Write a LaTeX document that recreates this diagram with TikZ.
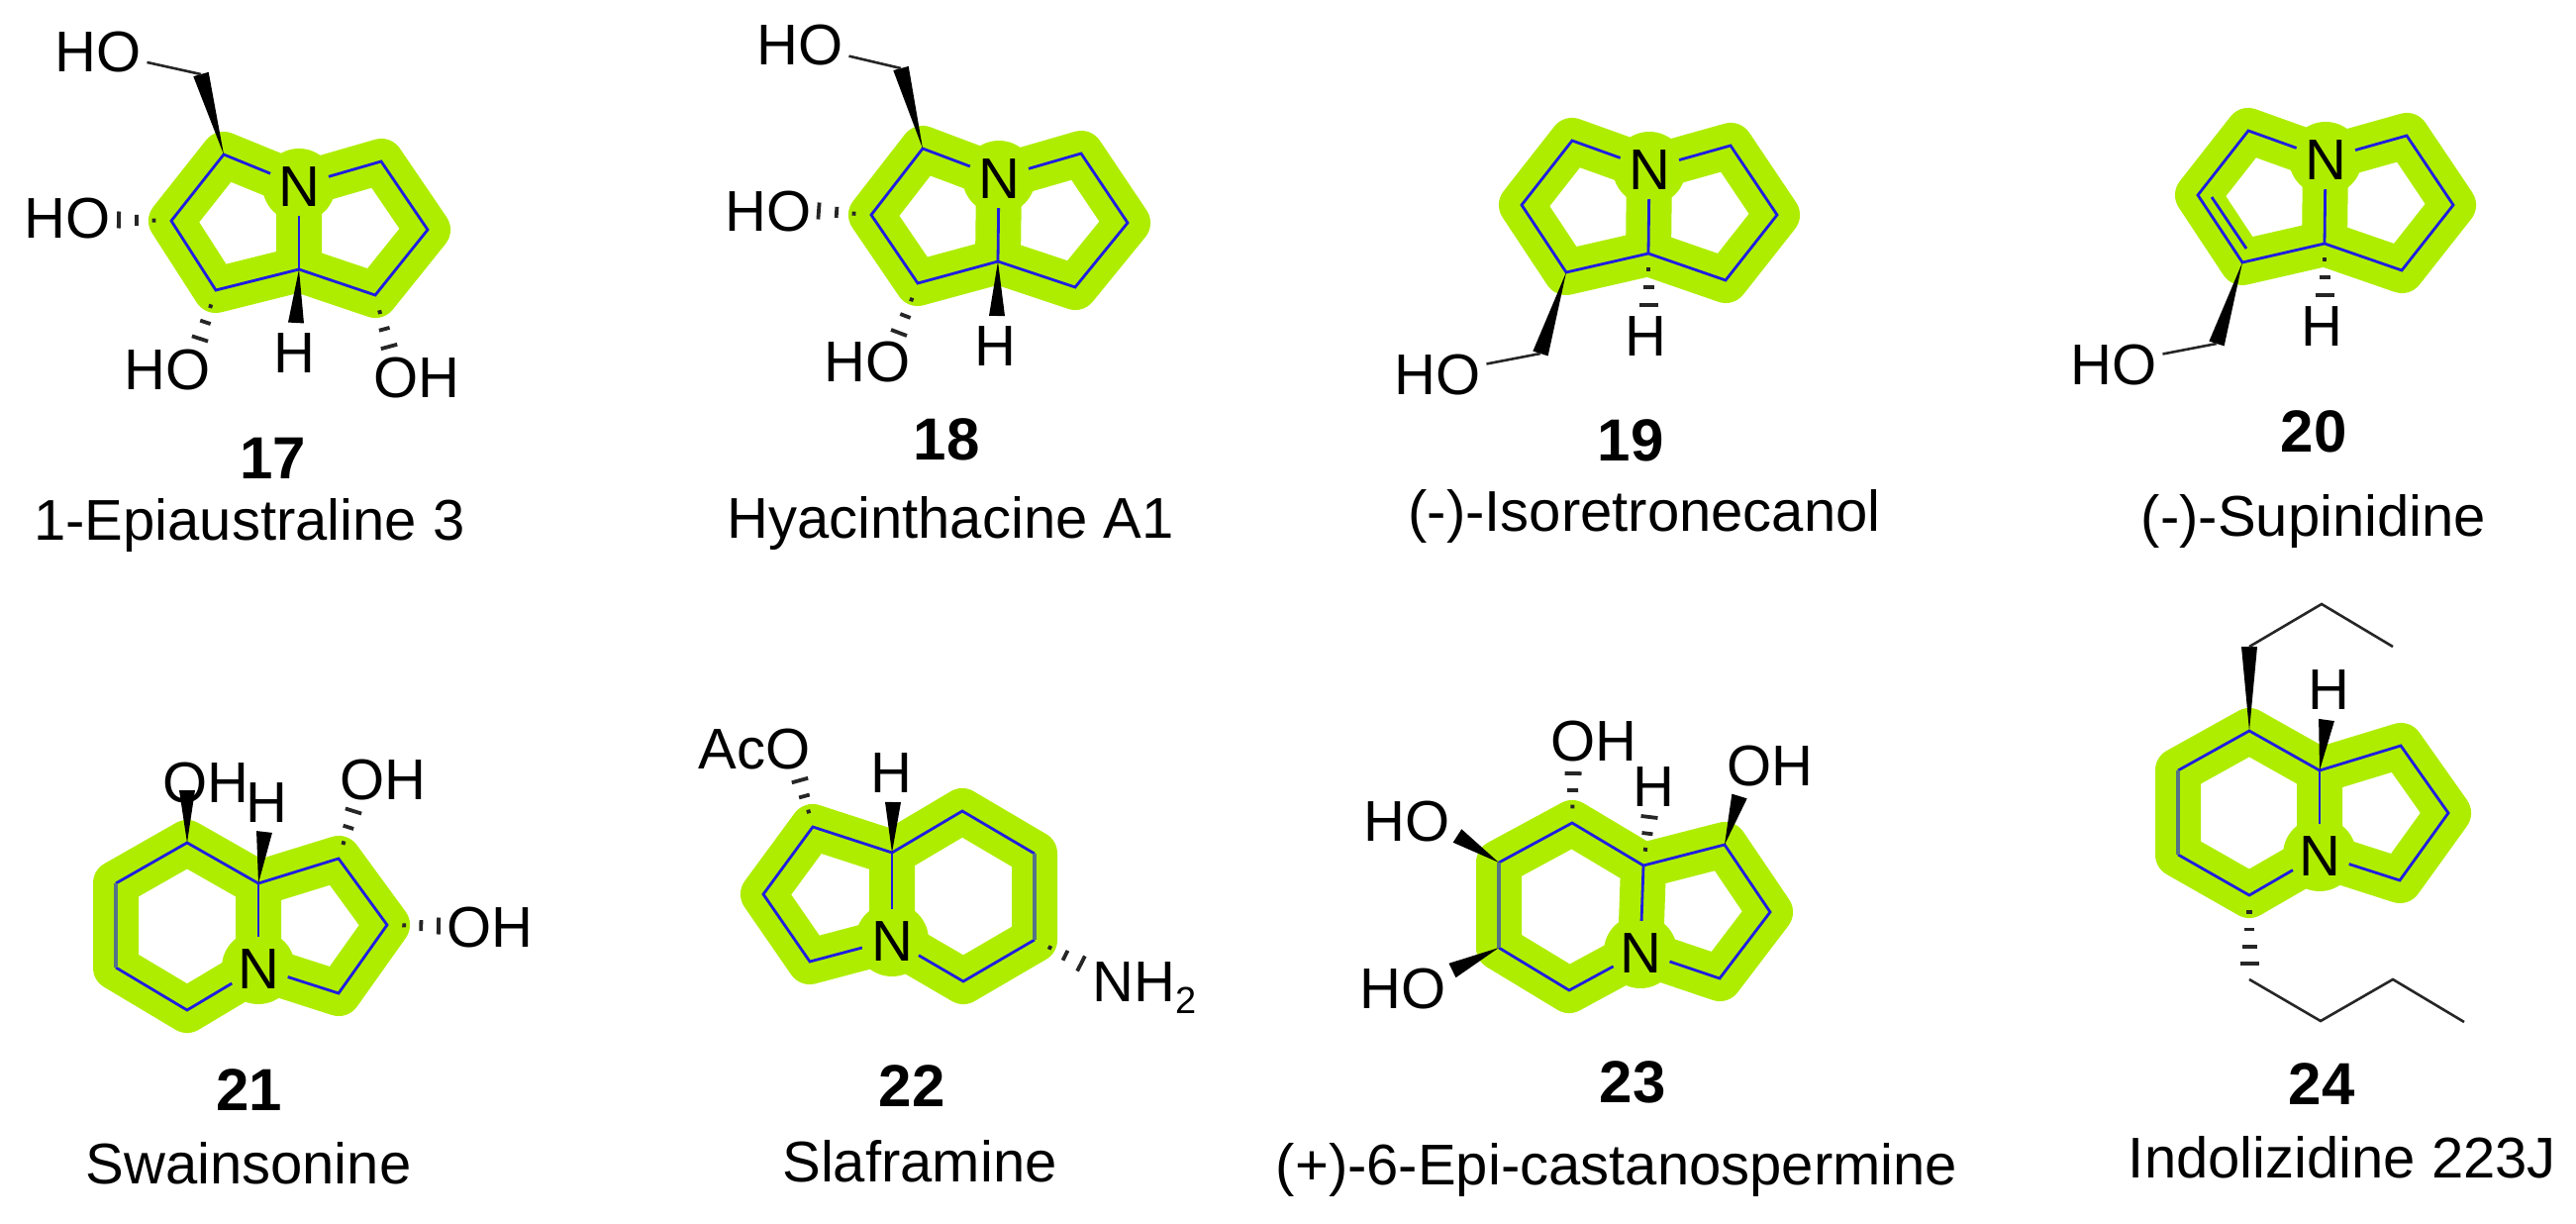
\documentclass[tikz,border=0pt]{standalone}
\usepackage{xcolor}
\usepackage{fontspec}
\setmainfont{Liberation Sans}
\usetikzlibrary{calc}
\definecolor{limeglow}{RGB}{175,237,0}
\definecolor{bondblue}{RGB}{30,30,225}
\definecolor{dblgrey}{RGB}{85,115,135}
\tikzset{
  glow/.style={draw=limeglow, line width=46pt, line join=round, line cap=round},
  ringbond/.style={draw=bondblue, line width=2.8pt, line join=miter},
  dblbond/.style={draw=dblgrey, line width=4.6pt},
  chainbond/.style={draw=black!85, line width=2.6pt, line join=miter},
  hashbar/.style={draw=black!85, line width=3.8pt},
  atomlbl/.style={inner sep=0pt, outer sep=6pt, text height=42pt, text depth=0pt, font=\fontsize{58}{70}\selectfont},
  nitro/.style={circle, inner sep=0pt, minimum size=62pt, text height=42pt, text depth=0pt, font=\fontsize{58}{70}\selectfont},
  numlbl/.style={inner sep=0pt, text height=43pt, text depth=0pt, font=\fontsize{60}{70}\selectfont\bfseries},
  namelbl/.style={inner sep=0pt, text height=42pt, text depth=0pt, font=\fontsize{58}{70}\selectfont}
}
\newcommand{\wedgebond}[2]{\fill ($(#2)!8pt!90:(#1)$) -- (#1) -- ($(#2)!8pt!-90:(#1)$) -- cycle;}
\newcommand{\hashbond}[3][0.33/2,0.66/5.5,1/8.5]{%
  \foreach \hf/\hw in {#1} {
    \draw[hashbar] ($(#2)!\hf!(#3)!\hw pt!90:(#2)$) -- ($(#2)!\hf!(#3)!\hw pt!-90:(#2)$);
  }}

\begin{document}
\begin{tikzpicture}[x=1pt,y=-1pt]
  \useasboundingbox (0,0) rectangle (2602,1236);

  % Compound 17
  \coordinate (a17) at (226,156); \coordinate (b17) at (173,223); \coordinate (c17) at (218,293);
  \coordinate (j17) at (302,272); \coordinate (d17) at (379,298); \coordinate (e17) at (432,232);
  \coordinate (f17) at (385,163);
  \path (302,187) coordinate (n17c);
  \draw[glow] (a17) -- (n17c) -- (f17) -- (e17) -- (d17) -- (j17) -- (c17) -- (b17) -- cycle (n17c) -- (j17);
  \fill[limeglow] (n17c) circle (37);
  \node[nitro] (n17) at (n17c) {N};
  \draw[ringbond] (n17) -- (a17) -- (b17) -- (c17) -- (j17) -- (d17) -- (e17) -- (f17) -- (n17);
  \draw[ringbond] (j17) -- (n17);
  \coordinate (w17) at (203,75); \coordinate (x17) at (120,222); \coordinate (y17) at (202,342);
  \coordinate (z17) at (393,350); \coordinate (v17) at (299,326);
  \node[atomlbl] (ho17a) at (99,52) {HO};
  \node[atomlbl] (ho17b) at (68,219) {HO};
  \node[atomlbl] (ho17c) at (169,372) {HO};
  \node[atomlbl] (oh17) at (421,380) {OH};
  \node[atomlbl] (h17) at (297,355) {H};
  \wedgebond{a17}{w17}
  \wedgebond{j17}{v17}
  \draw[chainbond] (w17) -- (ho17a);
  \hashbond{b17}{x17}
  \hashbond{c17}{y17}
  \hashbond{d17}{z17}
  \node[numlbl] (num17) at (276,462) {17};
  \node[namelbl] (name17) at (252,524) {1-Epiaustraline 3};

  % Compound 18
  \coordinate (a18) at (932,150); \coordinate (b18) at (880,217); \coordinate (c18) at (927,286);
  \coordinate (j18) at (1008,264); \coordinate (d18) at (1086,290); \coordinate (e18) at (1139,225);
  \coordinate (f18) at (1092,155);
  \path (1009,179) coordinate (n18c);
  \draw[glow] (a18) -- (n18c) -- (f18) -- (e18) -- (d18) -- (j18) -- (c18) -- (b18) -- cycle (n18c) -- (j18);
  \fill[limeglow] (n18c) circle (37);
  \node[nitro] (n18) at (n18c) {N};
  \draw[ringbond] (n18) -- (a18) -- (b18) -- (c18) -- (j18) -- (d18) -- (e18) -- (f18) -- (n18);
  \draw[ringbond] (j18) -- (n18);
  \coordinate (w18) at (910,69); \coordinate (x18) at (827,213); \coordinate (y18) at (908,336);
  \coordinate (v18) at (1007,319);
  \node[atomlbl] (ho18a) at (808,45) {HO};
  \node[atomlbl] (ho18b) at (776,212) {HO};
  \node[atomlbl] (ho18c) at (876,364) {HO};
  \node[atomlbl] (h18) at (1005,348) {H};
  \wedgebond{a18}{w18}
  \wedgebond{j18}{v18}
  \draw[chainbond] (w18) -- (ho18a);
  \hashbond{b18}{x18}
  \hashbond{c18}{y18}
  \node[numlbl] (num18) at (956,443) {18};
  \node[namelbl] (name18) at (960,522) {Hyacinthacine A1};

  % Compound 19
  \coordinate (a19) at (1588,142); \coordinate (b19) at (1537,207); \coordinate (c19) at (1582,275);
  \coordinate (j19) at (1665,256); \coordinate (d19) at (1743,283); \coordinate (e19) at (1795,217);
  \coordinate (f19) at (1748,147);
  \path (1666,170) coordinate (n19c);
  \draw[glow] (a19) -- (n19c) -- (f19) -- (e19) -- (d19) -- (j19) -- (c19) -- (b19) -- cycle (n19c) -- (j19);
  \fill[limeglow] (n19c) circle (37);
  \node[nitro] (n19) at (n19c) {N};
  \draw[ringbond] (n19) -- (a19) -- (b19) -- (c19) -- (j19) -- (d19) -- (e19) -- (f19) -- (n19);
  \draw[ringbond] (j19) -- (n19);
  \coordinate (w19) at (1556,357); \coordinate (x19) at (1665,308);
  \node[atomlbl] (ho19) at (1452,377) {HO};
  \node[atomlbl] (h19) at (1662,338) {H};
  \wedgebond{c19}{w19}
  \draw[chainbond] (w19) -- (ho19);
  \hashbond[0.3/2,0.65/5.5,1/9.5]{j19}{x19}
  \node[numlbl] (num19) at (1647,444) {19};
  \node[namelbl] (name19) at (1661,515) {(-)-Isoretronecanol};

  % Compound 20
  \coordinate (a20) at (2271,132); \coordinate (b20) at (2220,197); \coordinate (c20) at (2265,265);
  \coordinate (j20) at (2348,246); \coordinate (d20) at (2426,273); \coordinate (e20) at (2478,207);
  \coordinate (f20) at (2431,137);
  \path (2349,160) coordinate (n20c);
  \draw[glow] (a20) -- (n20c) -- (f20) -- (e20) -- (d20) -- (j20) -- (c20) -- (b20) -- cycle (n20c) -- (j20);
  \fill[limeglow] (n20c) circle (37);
  \node[nitro] (n20) at (n20c) {N};
  \draw[ringbond] (n20) -- (a20) -- (b20) -- (c20) -- (j20) -- (d20) -- (e20) -- (f20) -- (n20);
  \draw[ringbond] (j20) -- (n20);
  \coordinate (p20) at (2234,199); \coordinate (q20) at (2269,251);
  \draw[ringbond] (p20) -- (q20);
  \coordinate (w20) at (2239,347); \coordinate (x20) at (2348,298);
  \node[atomlbl] (ho20) at (2135,367) {HO};
  \node[atomlbl] (h20) at (2345,328) {H};
  \wedgebond{c20}{w20}
  \draw[chainbond] (w20) -- (ho20);
  \hashbond[0.3/2,0.65/5.5,1/9.5]{j20}{x20}
  \node[numlbl] (num20) at (2337,435) {20};
  \node[namelbl] (name20) at (2337,520) {(-)-Supinidine};

  % Compound 21
  \coordinate (a21) at (189,851); \coordinate (b21) at (117,892); \coordinate (c21) at (117,977);
  \coordinate (d21) at (189,1020); \coordinate (j21) at (261,892); \coordinate (e21) at (342,867);
  \coordinate (f21) at (391,934); \coordinate (g21) at (342,1003);
  \path (261,977) coordinate (n21c);
  \draw[glow] (n21c) -- (d21) -- (c21) -- (b21) -- (a21) -- (j21) -- (e21) -- (f21) -- (g21) -- cycle (j21) -- (n21c);
  \fill[limeglow] (n21c) circle (37);
  \node[nitro] (n21) at (n21c) {N};
  \draw[ringbond] (n21) -- (d21) -- (c21);
  \draw[ringbond] (b21) -- (a21) -- (j21) -- (e21) -- (f21) -- (g21) -- (n21);
  \draw[ringbond] (j21) -- (n21);
  \draw[dblbond] (b21) -- (c21);
  \coordinate (w21) at (189,798); \coordinate (v21) at (267,840); \coordinate (x21) at (357,819);
  \coordinate (y21) at (443,935);
  \node[atomlbl] (oh21a) at (208,789) {OH};
  \node[atomlbl] (h21) at (269,809) {H};
  \node[atomlbl] (oh21b) at (387,786) {OH};
  \node[atomlbl] (oh21c) at (495,935) {OH};
  \wedgebond{a21}{w21}
  \wedgebond{j21}{v21}
  \hashbond{e21}{x21}
  \hashbond{f21}{y21}
  \node[numlbl] (num21) at (252,1100) {21};
  \node[namelbl] (name21) at (251,1174) {Swainsonine};

  % Compound 22
  \coordinate (a22) at (821,835); \coordinate (b22) at (771,903); \coordinate (c22) at (818,971);
  \coordinate (j22) at (901,861); \coordinate (d22) at (972,819); \coordinate (e22) at (1045,862);
  \coordinate (f22) at (1045,949); \coordinate (g22) at (973,991);
  \path (901,949) coordinate (n22c);
  \draw[glow] (n22c) -- (c22) -- (b22) -- (a22) -- (j22) -- (d22) -- (e22) -- (f22) -- (g22) -- cycle (j22) -- (n22c);
  \fill[limeglow] (n22c) circle (37);
  \node[nitro] (n22) at (n22c) {N};
  \draw[ringbond] (n22) -- (c22) -- (b22) -- (a22) -- (j22) -- (d22) -- (e22);
  \draw[ringbond] (f22) -- (g22) -- (n22);
  \draw[ringbond] (j22) -- (n22);
  \draw[dblbond] (e22) -- (f22);
  \coordinate (v22) at (902,810); \coordinate (x22) at (808,788); \coordinate (y22) at (1092,973);
  \node[atomlbl] (aco22) at (762,755) {AcO};
  \node[atomlbl] (h22) at (900,779) {H};
  \node[atomlbl] (nh22) at (1156,990) {NH\raisebox{-.22em}{\fontsize{38}{40}\selectfont 2}};
  \wedgebond{j22}{v22}
  \hashbond{a22}{x22}
  \hashbond{f22}{y22}
  \node[numlbl] (num22) at (921,1096) {22};
  \node[namelbl] (name22) at (929,1172) {Slaframine};

  % Compound 23
  \coordinate (a23) at (1588,831); \coordinate (b23) at (1514,871); \coordinate (c23) at (1514,957);
  \coordinate (d23) at (1585,1000); \coordinate (j23) at (1660,874); \coordinate (e23) at (1742,853);
  \coordinate (f23) at (1788,921); \coordinate (g23) at (1737,988);
  \path (1657,961) coordinate (n23c);
  \draw[glow] (n23c) -- (d23) -- (c23) -- (b23) -- (a23) -- (j23) -- (e23) -- (f23) -- (g23) -- cycle (j23) -- (n23c);
  \fill[limeglow] (n23c) circle (37);
  \node[nitro] (n23) at (n23c) {N};
  \draw[ringbond] (n23) -- (d23) -- (c23);
  \draw[ringbond] (b23) -- (a23) -- (j23) -- (e23) -- (f23) -- (g23) -- (n23);
  \draw[ringbond] (j23) -- (n23);
  \draw[dblbond] (b23) -- (c23);
  \coordinate (u23) at (1472,844); \coordinate (t23) at (1467,980); \coordinate (v23) at (1757,804);
  \coordinate (x23) at (1589,781); \coordinate (y23) at (1666,825);
  \node[atomlbl] (oh23a) at (1610,747) {OH};
  \node[atomlbl] (h23) at (1670,793) {H};
  \node[atomlbl] (oh23b) at (1788,772) {OH};
  \node[atomlbl] (ho23a) at (1421,828) {HO};
  \node[atomlbl] (ho23b) at (1417,997) {HO};
  \wedgebond{b23}{u23}
  \wedgebond{c23}{t23}
  \wedgebond{e23}{v23}
  \hashbond{a23}{x23}
  \hashbond{j23}{y23}
  \node[numlbl] (num23) at (1649,1092) {23};
  \node[namelbl] (name23) at (1633,1175) {(+)-6-Epi-castanospermine};

  % Compound 24
  \coordinate (a24) at (2272,738); \coordinate (b24) at (2200,778); \coordinate (c24) at (2200,863);
  \coordinate (d24) at (2272,904); \coordinate (j24) at (2343,778); \coordinate (e24) at (2425,753);
  \coordinate (f24) at (2473,821); \coordinate (g24) at (2424,889);
  \path (2343,863) coordinate (n24c);
  \draw[glow] (n24c) -- (d24) -- (c24) -- (b24) -- (a24) -- (j24) -- (e24) -- (f24) -- (g24) -- cycle (j24) -- (n24c);
  \fill[limeglow] (n24c) circle (37);
  \node[nitro] (n24) at (n24c) {N};
  \draw[ringbond] (n24) -- (d24) -- (c24);
  \draw[ringbond] (b24) -- (a24) -- (j24) -- (e24) -- (f24) -- (g24) -- (n24);
  \draw[ringbond] (j24) -- (n24);
  \draw[dblbond] (b24) -- (c24);
  \coordinate (w24) at (2272,653); \coordinate (v24) at (2350,727); \coordinate (x24) at (2272,973);
  \coordinate (k24) at (2345,610); \coordinate (l24) at (2417,653);
  \coordinate (m24) at (2272,989); \coordinate (o24) at (2344,1031); \coordinate (q24) at (2417,989);
  \coordinate (r24) at (2489,1032);
  \node[atomlbl] (h24) at (2352,695) {H};
  \wedgebond{a24}{w24}
  \wedgebond{j24}{v24}
  \draw[chainbond] (w24) -- (k24) -- (l24);
  \draw[chainbond] (m24) -- (o24) -- (q24) -- (r24);
  \hashbond[0.25/3,0.5/5,0.75/7.5,1/9.5]{d24}{x24}
  \node[numlbl] (num24) at (2345,1094) {24};
  \node[namelbl] (name24) at (2366,1168) {Indolizidine 223J};
\end{tikzpicture}
\end{document}
